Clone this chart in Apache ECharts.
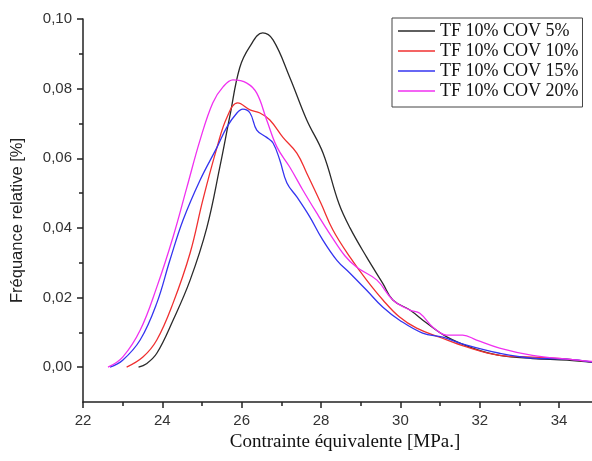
<!DOCTYPE html>
<html>
<head>
<meta charset="utf-8">
<script src="https://cdn.jsdelivr.net/npm/echarts@6/dist/echarts.min.js"></script>
<style>html,body{margin:0;padding:0;background:#fff;}#c{width:592px;height:461px;}</style>
</head>
<body>
<div id="c"></div>
<script>
var seriesNames = ['TF 10% COV 5%', 'TF 10% COV 10%', 'TF 10% COV 15%', 'TF 10% COV 20%'];

var xCov5 = [23.4, 23.6, 23.86, 24.27, 24.70, 25.12, 25.45, 25.70, 25.95, 26.2, 26.53, 26.79, 27.21, 27.64, 28.05, 28.45, 28.73, 29.15, 29.56, 29.81, 30.24, 30.67, 31.17, 31.82, 32.5, 33.33, 34.2, 35.0];
var yCov5 = [0, 0.001, 0.004, 0.0135, 0.025, 0.040, 0.0575, 0.072, 0.086, 0.092, 0.096, 0.094, 0.0833, 0.071, 0.0615, 0.047, 0.040, 0.0316, 0.024, 0.0193, 0.0164, 0.0126, 0.0087, 0.0055, 0.0034, 0.0025, 0.002, 0.0012];

var xCov10 = [23.1, 23.51, 23.86, 24.27, 24.70, 25.02, 25.38, 25.63, 25.9, 26.21, 26.46, 26.71, 27.04, 27.39, 27.64, 28.0, 28.3, 28.73, 29.15, 29.56, 29.98, 30.41, 30.99, 31.67, 32.5, 33.33, 34.2, 35.0];
var yCov10 = [0, 0.0029, 0.0078, 0.0184, 0.0328, 0.048, 0.0632, 0.0718, 0.0759, 0.0739, 0.073, 0.071, 0.066, 0.0615, 0.0557, 0.047, 0.0394, 0.0316, 0.025, 0.0193, 0.0144, 0.0112, 0.0086, 0.0058, 0.0034, 0.0029, 0.0023, 0.0012];

var xCov15 = [22.68, 23.0, 23.44, 23.86, 24.19, 24.52, 24.95, 25.38, 25.63, 25.88, 26.03, 26.21, 26.38, 26.63, 26.79, 26.96, 27.14, 27.39, 27.72, 28.02, 28.4, 28.73, 29.15, 29.56, 29.98, 30.56, 31.07, 31.67, 32.5, 33.33, 34.2, 35.0];
var yCov15 = [0, 0.002, 0.0078, 0.0184, 0.0307, 0.0422, 0.0537, 0.0632, 0.069, 0.073, 0.0741, 0.073, 0.0681, 0.066, 0.0644, 0.0595, 0.0529, 0.0489, 0.0431, 0.037, 0.0307, 0.027, 0.0221, 0.0172, 0.0135, 0.0098, 0.0086, 0.0063, 0.004, 0.0026, 0.0023, 0.0012];

var xCov20 = [22.63, 23.0, 23.44, 23.86, 24.27, 24.62, 24.95, 25.27, 25.53, 25.78, 26.13, 26.38, 26.63, 26.89, 27.21, 27.54, 27.89, 28.25, 28.6, 28.9, 29.41, 29.81, 30.24, 30.49, 30.82, 31.17, 31.57, 31.92, 32.5, 33.33, 34.2, 35.0];
var yCov20 = [0, 0.0029, 0.0106, 0.023, 0.0374, 0.0517, 0.0652, 0.0759, 0.0805, 0.0825, 0.0816, 0.0787, 0.071, 0.0632, 0.0575, 0.0509, 0.0443, 0.0378, 0.032, 0.0287, 0.025, 0.0193, 0.0164, 0.0155, 0.0115, 0.0092, 0.0092, 0.0078, 0.0055, 0.0034, 0.0023, 0.0015];

var xTicks = [22, 24, 26, 28, 30, 32, 34];
var xMinorTicks = [23, 25, 27, 29, 31, 33];
var yTicks = [0, 0.02, 0.04, 0.06, 0.08, 0.10];
var yMinorTicks = [0.01, 0.03, 0.05, 0.07, 0.09];

var colors = ['#2a2a2a', '#f03030', '#3434f0', '#f030f0'];

function pairs(xs, ys) { return xs.map(function (x, i) { return [x, ys[i]]; }); }
var allX = [xCov5, xCov10, xCov15, xCov20];
var allY = [yCov5, yCov10, yCov15, yCov20];

var X_MIN = 22, X_MAX = 34.83, Y_MIN = -0.01, Y_MAX = 0.10;
var axisColor = '#222';
var labelFont = { color: '#333', fontSize: 15, fontFamily: 'Liberation Sans, Arial, sans-serif' };

var chart = echarts.init(document.getElementById('c'), null, { renderer: 'canvas' });
chart.setOption({
  animation: false,
  backgroundColor: '#fff',
  grid: { left: 83, right: 0, top: 19, bottom: 59, containLabel: false },
  legend: {
    orient: 'vertical',
    left: 392, top: 18,
    padding: [4, 4, 7, 6],
    itemGap: 2,
    itemWidth: 37, itemHeight: 14,
    borderColor: '#444', borderWidth: 1,
    backgroundColor: '#fff',
    icon: 'path://M0,0 L370,0 L370,14 L0,14 Z',
    textStyle: { color: '#111', fontSize: 18, lineHeight: 18, fontFamily: 'Liberation Serif, Times New Roman, serif' },
    data: seriesNames
  },
  xAxis: [{
    type: 'value', min: X_MIN, max: X_MAX,
    name: 'Contrainte équivalente [MPa.]', nameLocation: 'middle', nameGap: 31,
    nameTextStyle: { color: '#111', fontSize: 19, fontFamily: 'Liberation Serif, Times New Roman, serif', padding: [0, 0, 0, 15] },
    axisLine: { onZero: false, lineStyle: { color: axisColor, width: 1.5 } },
    axisTick: { customValues: xTicks, length: 6, lineStyle: { color: axisColor, width: 1.5 } },
    axisLabel: Object.assign({ customValues: xTicks, margin: 11 }, labelFont),
    splitLine: { show: false }
  }, {
    type: 'value', min: X_MIN, max: X_MAX, position: 'bottom',
    axisLine: { show: false, onZero: false },
    axisTick: { customValues: xMinorTicks, length: 4, lineStyle: { color: axisColor, width: 1.5 } },
    axisLabel: { show: false },
    splitLine: { show: false }
  }],
  yAxis: [{
    type: 'value', min: Y_MIN, max: Y_MAX,
    name: 'Fréquance relative [%]', nameLocation: 'middle', nameGap: 57,
    nameTextStyle: { color: '#222', fontSize: 16.5, fontFamily: 'Liberation Sans, Arial, sans-serif', padding: [0, 20, 0, 0] },
    axisLine: { show: true, onZero: false, lineStyle: { color: axisColor, width: 1.5 } },
    axisTick: { show: true, customValues: yTicks, length: 6, lineStyle: { color: axisColor, width: 1.5 } },
    axisLabel: Object.assign({ customValues: yTicks, margin: 11, formatter: function (v) { return v.toFixed(2).replace('.', ','); } }, labelFont),
    splitLine: { show: false }
  }, {
    type: 'value', min: Y_MIN, max: Y_MAX, position: 'left',
    axisLine: { show: false, onZero: false },
    axisTick: { show: true, customValues: yMinorTicks, length: 4, lineStyle: { color: axisColor, width: 1.5 } },
    axisLabel: { show: false },
    splitLine: { show: false }
  }],
  series: seriesNames.map(function (name, i) {
    return {
      name: name, type: 'line', xAxisIndex: 0, yAxisIndex: 0,
      data: pairs(allX[i], allY[i]),
      symbol: 'none', smooth: 0.4,
      lineStyle: { color: colors[i], width: 1.3 },
      itemStyle: { color: colors[i] },
      clip: true
    };
  })
});
</script>
</body>
</html>
